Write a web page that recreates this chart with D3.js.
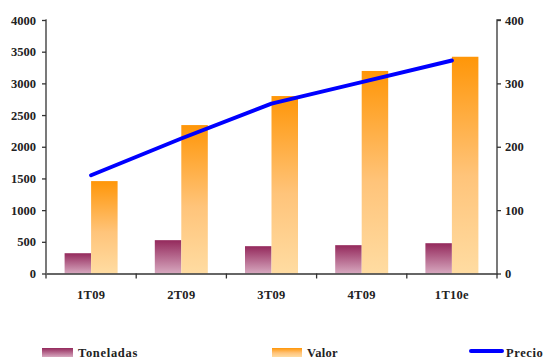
<!DOCTYPE html>
<html>
<head>
<meta charset="utf-8">
<script src="https://cdn.jsdelivr.net/npm/d3@7"></script>
<style>
  html, body { margin: 0; padding: 0; background: #fff; }
  svg { display: block; }
</style>
</head>
<body>
<svg id="chart" width="544" height="359"></svg>
<script>
// Quarterly data
const categories = ["1T09", "2T09", "3T09", "4T09", "1T10e"];
const toneladas  = [320, 526, 431, 447, 478];
const valor      = [1458, 2342, 2800, 3196, 3420];
const precio     = [155, 213, 268, 302, 336];
const leftTicks  = [0, 500, 1000, 1500, 2000, 2500, 3000, 3500, 4000];
const rightTicks = [0, 100, 200, 300, 400];

const FONT = "'Liberation Serif', 'Times New Roman', Times, serif";

const svg = d3.select("#chart");
const m = { left: 46, right: 497, top: 20, bottom: 273.5 };

const x = d3.scaleBand().domain(categories).range([m.left, m.right]).padding(0);
const yL = d3.scaleLinear().domain([0, 4000]).range([m.bottom, m.top]);
const yR = d3.scaleLinear().domain([0, 400]).range([m.bottom, m.top]);

// Gradients
const defs = svg.append("defs");
function grad(id, stops) {
  const g = defs.append("linearGradient").attr("id", id)
    .attr("x1", 0).attr("y1", 0).attr("x2", 0).attr("y2", 1);
  stops.forEach(s => g.append("stop").attr("offset", s[0]).attr("stop-color", s[1]));
}
grad("gTon", [[0, "#94295c"], [1, "#d7a8bf"]]);
grad("gVal", [[0, "#ff9608"], [0.55, "#ffc47a"], [1, "#ffdca2"]]);

const bw = 26.5;

// Toneladas bars
svg.append("g").selectAll("rect").data(categories).join("rect")
  .attr("x", d => x(d) + x.bandwidth() / 2 - bw)
  .attr("y", (d, i) => yL(toneladas[i]))
  .attr("width", bw)
  .attr("height", (d, i) => yL(0) - yL(toneladas[i]))
  .attr("fill", "url(#gTon)");

// Valor bars
svg.append("g").selectAll("rect").data(categories).join("rect")
  .attr("x", d => x(d) + x.bandwidth() / 2)
  .attr("y", (d, i) => yL(valor[i]))
  .attr("width", bw)
  .attr("height", (d, i) => yL(0) - yL(valor[i]))
  .attr("fill", "url(#gVal)");

// Precio line
const line = d3.line()
  .x((d, i) => x(categories[i]) + x.bandwidth() / 2)
  .y(d => yR(d));
svg.append("path").datum(precio)
  .attr("d", line)
  .attr("fill", "none")
  .attr("stroke", "#0000ff")
  .attr("stroke-width", 4)
  .attr("stroke-linecap", "round")
  .attr("stroke-linejoin", "round");

// Axes
const axisColor = "#333";
const fmt = d3.format("d");
const gl = svg.append("g").attr("transform", `translate(${m.left},0)`)
  .call(d3.axisLeft(yL).tickValues(leftTicks).tickFormat(fmt).tickSize(4).tickPadding(6));
const gr = svg.append("g").attr("transform", `translate(${m.right},0)`)
  .call(d3.axisRight(yR).tickValues(rightTicks).tickFormat(fmt).tickSize(4).tickPadding(4));
const gb = svg.append("g").attr("transform", `translate(0,${m.bottom})`)
  .call(d3.axisBottom(x).tickSize(0).tickPadding(17));

[gl, gr, gb].forEach(g => {
  g.attr("font-family", null).attr("font-size", null);
  g.select(".domain").attr("stroke", axisColor).attr("stroke-width", 1.3);
  g.selectAll(".tick line").attr("stroke", axisColor).attr("stroke-width", 1.3);
  g.selectAll("text")
    .style("font-family", FONT).style("font-size", "12.5px").style("font-weight", "bold")
    .attr("fill", "#222");
});
gb.selectAll("text").style("letter-spacing", "0.3px");
gl.select(".domain").attr("d", `M-0.5,${m.top}H0V${m.bottom}`);
gr.select(".domain").attr("d", `M4,${m.top}H0V${m.bottom}`);

// Category boundary ticks on the bottom axis
const bounds = categories.map(c => x(c)).concat([m.right]);
svg.append("g").selectAll("line").data(bounds).join("line")
  .attr("x1", d => d).attr("x2", d => d)
  .attr("y1", m.bottom).attr("y2", m.bottom + 5)
  .attr("stroke", axisColor).attr("stroke-width", 1.3);

// Legend
const leg = svg.append("g");
leg.append("rect").attr("x", 42).attr("y", 348).attr("width", 31).attr("height", 9).attr("fill", "url(#gTon)");
leg.append("rect").attr("x", 272).attr("y", 348).attr("width", 30).attr("height", 9).attr("fill", "url(#gVal)");
leg.append("line").attr("x1", 471).attr("x2", 502).attr("y1", 351).attr("y2", 351)
  .attr("stroke", "#0000ff").attr("stroke-width", 4).attr("stroke-linecap", "round");
const legendLabels = [["Toneladas", 78, 0.7], ["Valor", 307, 0.3], ["Precio", 506, 0.6]];
leg.selectAll("text").data(legendLabels).join("text")
  .attr("x", d => d[1]).attr("y", 357)
  .style("font-family", FONT).style("font-size", "12.5px").style("font-weight", "bold")
  .style("letter-spacing", d => d[2] + "px")
  .attr("fill", "#222")
  .text(d => d[0]);
</script>
</body>
</html>
